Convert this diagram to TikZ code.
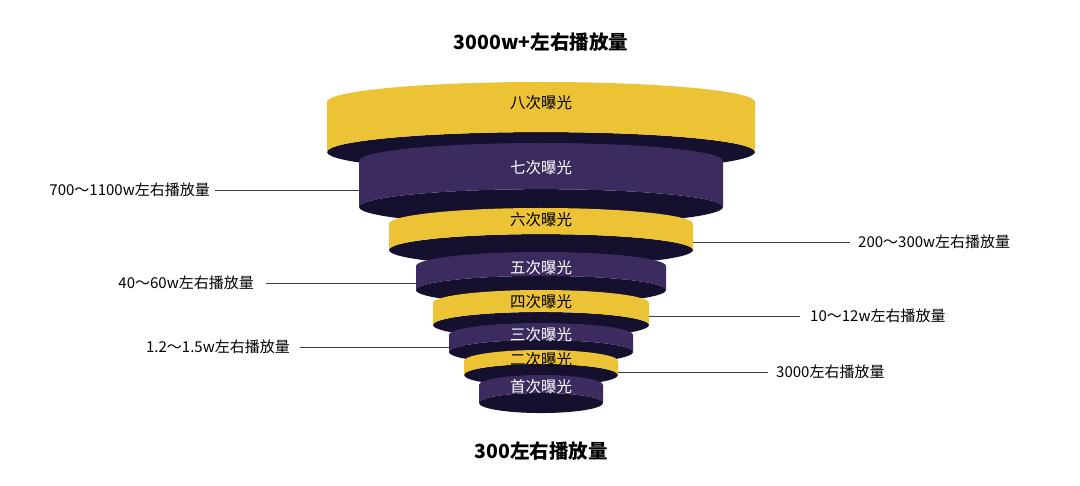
\documentclass[tikz,border=0pt]{standalone}
\usepackage{fontspec}
\setmainfont{Noto Sans CJK SC}
\definecolor{funnelyellow}{HTML}{EBC334}
\definecolor{funnelpurple}{HTML}{3C2B5E}
\definecolor{funneldark}{HTML}{15102E}
\tikzset{
    tierlabel/.style={font=\fontsize{15.5}{16}\selectfont},
    sidenote/.style={font=\fontsize{15}{16}\selectfont, inner sep=2pt},
    headline/.style={font=\fontsize{19.5}{20}\selectfont\bfseries},
    leader/.style={draw=black!75, line width=0.6pt}
}
\begin{document}
\begin{tikzpicture}[x=1pt,y=-1pt]
    \useasboundingbox (0,0) rectangle (1080,486);
    \fill[white] (0,0) rectangle (1080,486);

    % Schichten: Halbachse / obere Kante / untere Kante / Farbe / Textfarbe / Text / Texthoehe
    \foreach \rx/\yt/\ye/\col/\tcol/\txt/\ly [count=\i] in {
        214/82/152/funnelyellow/black/八次曝光/103,
        182/143/207/funnelpurple/white/七次曝光/168,
        152/208/250/funnelyellow/black/六次曝光/220,
        125/252/290/funnelpurple/white/五次曝光/268,
        108/290/325/funnelyellow/black/四次曝光/302,
        92/323/352/funnelpurple/white/三次曝光/335,
        77/350/375/funnelyellow/black/二次曝光/360,
        62/375/403/funnelpurple/white/首次曝光/387}
    {
        \pgfmathsetmacro{\ry}{6+0.065*\rx}
        \pgfmathsetmacro{\ys}{\yt+\ry}
        % dunkler Rand unten
        \fill[funneldark] (541,\ye) ellipse [x radius=\rx, y radius=\ry];
        % Koerper
        \fill[\col] (541-\rx,\ys) arc[start angle=180, end angle=0, x radius=\rx, y radius=-\ry]
            -- (541+\rx,\ye) arc[start angle=0, end angle=180, x radius=\rx, y radius=-\ry] -- cycle;
        \node[tierlabel, text=\tcol] (tier\i) at (541,\ly) {\txt};
    }

    % Seitenkanten der Schichten
    \coordinate (left7) at (359,0);
    \coordinate (right6) at (693,0);
    \coordinate (left5) at (416,0);
    \coordinate (right4) at (649,0);
    \coordinate (left3) at (449,0);
    \coordinate (right2) at (618,0);

    % Ueberschriften
    \node[headline] (top) at (541,42) {3000w+左右播放量};
    \node[headline] (bottom) at (541,451) {300左右播放量};

    % Beschriftungen links
    \node[sidenote, anchor=east] (n7) at (212,190) {700～1100w左右播放量};
    \node[sidenote, anchor=east] (n5) at (256,283) {40～60w左右播放量};
    \node[sidenote, anchor=east] (n3) at (292,347) {1.2～1.5w左右播放量};
    \draw[leader] (n7.east) ++(3,0) coordinate (a7) -- (a7 -| left7);
    \draw[leader] (n5.east) ++(10,0) coordinate (a5) -- (a5 -| left5);
    \draw[leader] (n3.east) ++(8,0) coordinate (a3) -- (a3 -| left3);

    % Beschriftungen rechts
    \node[sidenote, anchor=west] (n6) at (856,242) {200～300w左右播放量};
    \node[sidenote, anchor=west] (n4) at (808,316) {10～12w左右播放量};
    \node[sidenote, anchor=west] (n2) at (774,372) {3000左右播放量};
    \draw[leader] (n6.west) ++(-6,0) coordinate (b6) -- (b6 -| right6);
    \draw[leader] (n4.west) ++(-8,0) coordinate (b4) -- (b4 -| right4);
    \draw[leader] (n2.west) ++(-6,0) coordinate (b2) -- (b2 -| right2);
\end{tikzpicture}
\end{document}
